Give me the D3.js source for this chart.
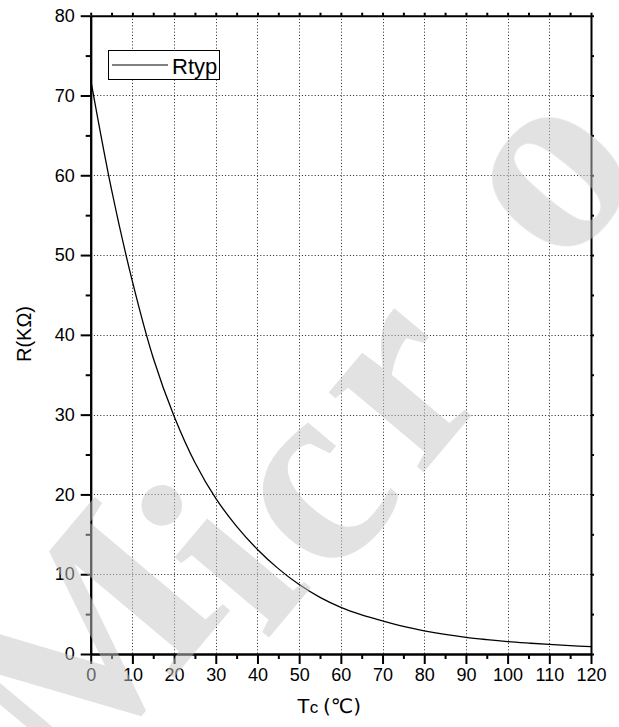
<!DOCTYPE html>
<html>
<head>
<meta charset="utf-8">
<script src="https://cdn.jsdelivr.net/npm/d3@7"></script>
<style>
  body { margin: 0; background: #fff; }
  svg { display: block; }
</style>
</head>
<body>
<div id="chart"></div>
<script>
// temperature (degC) and typical resistance (kOhm)
var temps = [0, 5, 10, 15, 20, 25, 30, 35, 40, 45, 50, 55, 60,
  65, 70, 75, 80, 85, 90, 95, 100, 105, 110, 115, 120];
var rtyp = [72.0, 58.2, 46.7, 37.1, 29.8, 24.0, 19.5, 16.0, 13.1, 10.7, 8.7, 7.1, 5.85,
  4.9, 4.15, 3.45, 2.9, 2.45, 2.08, 1.8, 1.56, 1.37, 1.2, 1.05, 0.92];

var xTicks = [0, 10, 20, 30, 40, 50, 60, 70, 80, 90, 100, 110, 120];
var yTicks = [0, 10, 20, 30, 40, 50, 60, 70, 80];
var xMinor = [5, 15, 25, 35, 45, 55, 65, 75, 85, 95, 105, 115];
var yMinor = [5, 15, 25, 35, 45, 55, 65, 75];

var watermarkLetters = ["M", "i", "c", "r", "o"];

function drawChart() {
  var W = 619, H = 727;
  var mLeft = 90.7, mRight = 591, mTop = 15.7, mBottom = 654;

  var svg = d3.select("#chart").append("svg")
    .attr("width", W)
    .attr("height", H)
    .style("font-family", "'Liberation Sans', Arial, sans-serif");

  var x = d3.scaleLinear().domain([0, 120]).range([mLeft, mRight]);
  var y = d3.scaleLinear().domain([0, 80]).range([mBottom, mTop]);

  // dotted grid
  var grid = svg.append("g")
    .attr("stroke", "#222")
    .attr("stroke-width", 1)
    .attr("stroke-dasharray", "1,2.2");
  grid.selectAll("line.v")
    .data(xTicks.slice(1, -1))
    .enter().append("line")
    .attr("class", "v")
    .attr("x1", function (d) { return Math.round(x(d)) + 0.5; })
    .attr("x2", function (d) { return Math.round(x(d)) + 0.5; })
    .attr("y1", mTop)
    .attr("y2", mBottom);
  grid.selectAll("line.h")
    .data(yTicks.slice(1, -1))
    .enter().append("line")
    .attr("class", "h")
    .attr("y1", function (d) { return Math.round(y(d)) + 0.5; })
    .attr("y2", function (d) { return Math.round(y(d)) + 0.5; })
    .attr("x1", mLeft)
    .attr("x2", mRight);

  // the curve
  var line = d3.line()
    .x(function (d) { return x(d[0]); })
    .y(function (d) { return y(d[1]); })
    .curve(d3.curveCatmullRom.alpha(0.5));

  svg.append("path")
    .datum(d3.zip(temps, rtyp))
    .attr("fill", "none")
    .attr("stroke", "#000")
    .attr("stroke-width", 1.3)
    .attr("d", line);

  // axes
  function styleAxis(g) {
    g.select(".domain").attr("stroke", "#000").attr("stroke-width", 2);
    g.selectAll(".tick line").attr("stroke", "#000").attr("stroke-width", 2);
    g.selectAll("text").attr("fill", "#000").style("font-size", "18px");
  }

  svg.append("g")
    .attr("transform", "translate(0," + mBottom + ")")
    .call(d3.axisBottom(x).tickValues(xTicks).tickSize(10).tickSizeOuter(0).tickPadding(4))
    .call(styleAxis);
  svg.append("g")
    .attr("transform", "translate(0," + mBottom + ")")
    .call(d3.axisBottom(x).tickValues(xMinor).tickSize(5).tickSizeOuter(0).tickFormat(""))
    .call(styleAxis);

  svg.append("g")
    .attr("transform", "translate(" + mLeft + ",0)")
    .call(d3.axisLeft(y).tickValues(yTicks).tickSize(10).tickSizeOuter(0).tickPadding(6))
    .call(styleAxis);
  svg.append("g")
    .attr("transform", "translate(" + mLeft + ",0)")
    .call(d3.axisLeft(y).tickValues(yMinor).tickSize(5).tickSizeOuter(0).tickFormat(""))
    .call(styleAxis);

  // top and right frame with small ticks
  svg.append("g")
    .attr("transform", "translate(0," + mTop + ")")
    .call(d3.axisTop(x).tickValues(xTicks.concat(xMinor)).tickSize(3).tickSizeOuter(0).tickFormat(""))
    .call(styleAxis);
  svg.append("g")
    .attr("transform", "translate(" + mRight + ",0)")
    .call(d3.axisRight(y).tickValues(yTicks.concat(yMinor)).tickSize(3).tickSizeOuter(0).tickFormat(""))
    .call(styleAxis);

  // axis titles
  var xt = svg.append("text")
    .attr("x", 329)
    .attr("y", 713)
    .attr("text-anchor", "middle")
    .style("font-size", "21px");
  xt.append("tspan").text("T");
  xt.append("tspan").style("font-size", "17px").text("c ");
  xt.append("tspan").style("font-family", "'DejaVu Sans', sans-serif").style("font-size", "20px").text("(℃)");

  svg.append("text")
    .attr("transform", "translate(31,334) rotate(-90)")
    .attr("text-anchor", "middle")
    .style("font-size", "20px")
    .text("R(KΩ)");

  // legend
  var lg = svg.append("g");
  lg.append("rect")
    .attr("x", 108.5).attr("y", 50.5)
    .attr("width", 111).attr("height", 29)
    .attr("fill", "#fff").attr("stroke", "#000").attr("stroke-width", 1);
  lg.append("line")
    .attr("x1", 112).attr("x2", 168)
    .attr("y1", 65).attr("y2", 65)
    .attr("stroke", "#000").attr("stroke-width", 1);
  lg.append("text")
    .attr("x", 172).attr("y", 73.5)
    .style("font-size", "22px")
    .text("Rtyp");

  // watermark, laid over everything, one letter at a time
  var wmPos = [[85, 645], [228, 562], [322, 500], [410, 392], [558, 182]];
  var wmLift = [89, 80, 62, 62, 62];
  svg.append("g")
    .attr("fill", "#c4c4c4")
    .attr("opacity", 0.5)
    .style("font-family", "'Liberation Serif', serif")
    .style("font-weight", "bold")
    .style("font-size", "270px")
    .selectAll("text")
    .data(watermarkLetters)
    .enter().append("text")
    .attr("transform", function (d, i) { return "translate(" + wmPos[i][0] + "," + wmPos[i][1] + ") rotate(-50)"; })
    .attr("text-anchor", "middle")
    .attr("y", function (d, i) { return wmLift[i]; })
    .text(function (d) { return d; });
}

drawChart();
</script>
</body>
</html>
